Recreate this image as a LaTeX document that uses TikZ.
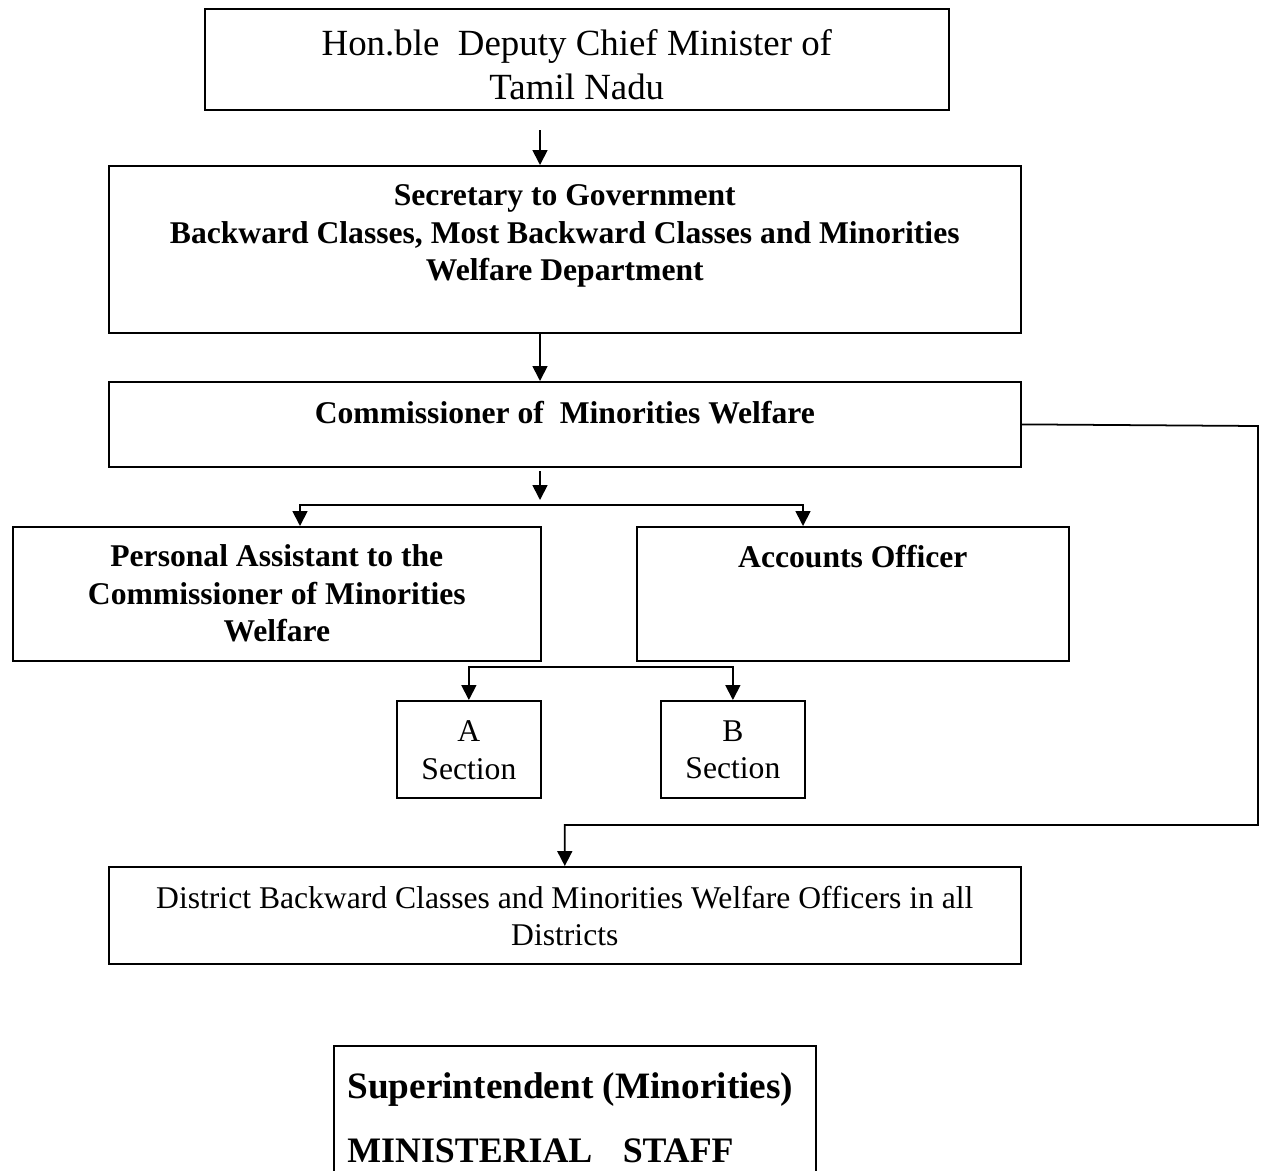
\documentclass[tikz,border=0pt]{standalone}
\usepackage{fontspec}
\setmainfont{Liberation Serif}
\usepackage{tikz}
\usetikzlibrary{positioning,arrows.meta}

\begin{document}
\begin{tikzpicture}[
            x=0.02cm, y=-0.02cm,
            box/.style={draw, rectangle, line width=1pt, anchor=north west, inner sep=0pt},
            txt/.style={align=center, inner sep=0pt, font=\fontsize{18}{21.3}\selectfont},
            btxt/.style={txt, font=\fontsize{18}{21.3}\selectfont\bfseries},
            arrow/.style={-{Triangle[width=8.5pt,length=8.5pt]}, line width=1pt}
        ]
            \path[use as bounding box, clip] (0,0) rectangle (1270,1170);

            % --- TOP: MINISTER AND SECRETARY ---
            \node[box, minimum width=14.88cm, minimum height=2.02cm] (minister) at (204,8) {};
            \node[txt, font=\fontsize{21}{24.6}\selectfont, below=0.43cm of minister.north] (ministerText) {Hon.ble\ \ Deputy Chief Minister of\\Tamil Nadu};

            \node[box, minimum width=18.24cm, minimum height=3.34cm] (secy) at (108,165) {};
            \node[btxt, below=0.39cm of secy.north] (secyText) {Secretary to Government\\Backward Classes, Most Backward Classes and Minorities\\Welfare Department};

            \coordinate (a1s) at (540,130);
            \draw[arrow] (a1s) -- (a1s |- secy.north);

            % --- COMMISSIONER ---
            \node[box, minimum width=18.24cm, minimum height=1.70cm] (comm) at (108,381) {};
            \node[btxt, below=0.39cm of comm.north] (commText) {Commissioner of\ \ Minorities Welfare};

            \draw[arrow] (a1s |- secy.south) -- (a1s |- comm.north);

            % --- PA AND ACCOUNTS OFFICER ---
            \node[box, minimum width=10.56cm, minimum height=2.68cm] (pa) at (12,526) {};
            \node[btxt, below=0.37cm of pa.north] (paText) {Personal Assistant to the\\Commissioner of Minorities\\Welfare};

            \node[box, minimum width=8.64cm, minimum height=2.68cm] (ao) at (636,526) {};
            \node[btxt, below=0.37cm of ao.north] (aoText) {Accounts Officer};

            \coordinate (a3s) at (540,471);
            \coordinate (a3e) at (540,500);
            \draw[arrow] (a3s) -- (a3e);
            \coordinate (bar) at (540,505);
            \coordinate (paIn) at (300,526);
            \coordinate (aoIn) at (803,526);
            \draw[arrow] (bar) -| (paIn);
            \draw[arrow] (bar) -| (aoIn);

            % --- SECTIONS ---
            \node[box, minimum width=2.88cm, minimum height=1.94cm] (secA) at (396,700) {};
            \node[txt, below=0.41cm of secA.north] (secAText) {A\\Section};
            \node[box, minimum width=2.88cm, minimum height=1.94cm] (secB) at (660,700) {};
            \node[txt, below=0.41cm of secB.north] (secBText) {B\\Section};

            \coordinate (fork) at (600,667);
            \draw[arrow] (fork) -| (secA.north);
            \draw[arrow] (fork) -| (secB.north);

            % --- DISTRICT OFFICERS ---
            \node[box, minimum width=18.24cm, minimum height=1.94cm] (dist) at (108,866) {};
            \node[txt, below=0.39cm of dist.north] (distText) {District Backward Classes and Minorities Welfare Officers in all\\Districts};

            \coordinate (rt) at (1258,426);
            \coordinate (rb) at (1258,825);
            \draw[arrow] (comm.east) -- (rt) -- (rb) -| (dist.north);

            % --- SUPERINTENDENT ---
            \node[box, minimum width=9.64cm, minimum height=3.4cm] (supt) at (333,1045) {};
            \node[align=left, inner sep=0pt, font=\fontsize{21.2}{36.4}\selectfont\bfseries,
                  below right=0.54cm and 0.28cm of supt.north west] (suptText) {Superintendent (Minorities)\\{\fontsize{20.4}{36.4}\selectfont MINISTERIAL\hspace{0.85em}STAFF}};

        \end{tikzpicture}
\end{document}
